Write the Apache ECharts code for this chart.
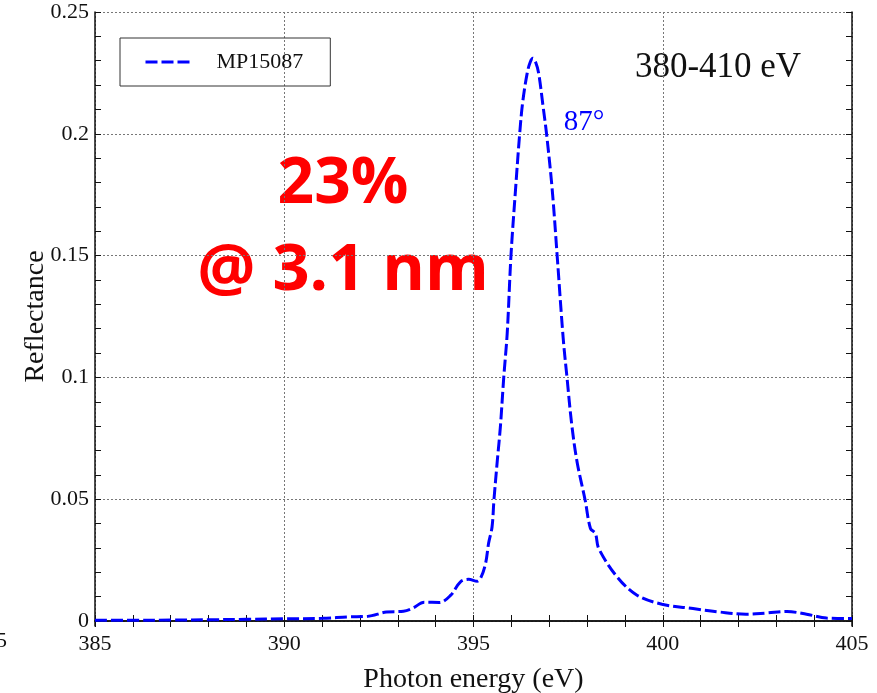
<!DOCTYPE html>
<html>
<head>
<meta charset="utf-8">
<script src="https://cdn.jsdelivr.net/npm/echarts@6/dist/echarts.min.js"></script>
<style>
  html, body { margin: 0; padding: 0; background: #fff; }
  #chart { width: 877px; height: 693px; }
</style>
</head>
<body>
<div id="chart"></div>
<script>
// photon energy (eV) and reflectance
var energy = [385.0, 386.0, 387.0, 388.0, 389.0, 390.0, 391.0, 391.7, 392.2, 392.7,
              393.15, 393.4, 393.7, 394.1, 394.4, 394.65, 394.87, 395.1, 395.2, 395.32,
              395.4, 395.49, 395.54, 395.63, 395.71, 395.8, 395.89, 395.99, 396.11, 396.22,
              396.3, 396.42, 396.5, 396.57, 396.64, 396.72, 396.84, 396.93, 397.08, 397.21,
              397.37, 397.47, 397.6, 397.74, 397.95, 398.09, 398.22, 398.31, 398.8, 399.32,
              399.98, 400.8, 401.5, 402.2, 402.75, 403.28, 403.8, 404.33, 405.0];
var reflect = [0.0003, 0.0003, 0.0004, 0.0005, 0.0007, 0.0009, 0.0011, 0.0017, 0.0019, 0.0037,
               0.0040, 0.0053, 0.0077, 0.0076, 0.0106, 0.0160, 0.0171, 0.0163, 0.0180, 0.0237,
               0.0320, 0.0386, 0.0496, 0.0660, 0.0797, 0.1002, 0.1180, 0.1500, 0.1770, 0.2000,
               0.2130, 0.2250, 0.2295, 0.2310, 0.2295, 0.2250, 0.2110, 0.2000, 0.1770, 0.1500,
               0.1160, 0.1000, 0.0800, 0.0650, 0.0496, 0.0380, 0.0359, 0.0297, 0.0180, 0.0106,
               0.0069, 0.0051, 0.0037, 0.0028, 0.0033, 0.0039, 0.0028, 0.0012, 0.0010];
var seriesName = 'MP15087';
var xTicks = [385, 405, 5];      // min, max, step
var yTicks = [0, 0.25, 0.05];

var serif = '"Liberation Serif", "Times New Roman", serif';
var chart = echarts.init(document.getElementById('chart'));

var pts = energy.map(function (e, i) { return [e, reflect[i]]; });
var gridLine = { show: true, lineStyle: { color: '#777', type: [2, 2], width: 1 } };
var frame = { show: true, lineStyle: { color: '#111', width: 1.5 } };
var inTick = { show: true, inside: true, length: 6, lineStyle: { color: '#111', width: 1 } };
var inMinor = { show: true, splitNumber: 5, length: 6, lineStyle: { color: '#111', width: 1 } };

option = {
    backgroundColor: '#fff',
    animation: false,
    grid: [
        // frame + data
        { left: 95, right: 25, top: 12, bottom: 67, outerBoundsMode: 'none', containLabel: false },
        // y ticks, zero at 0
        { left: 95, right: 25, top: 12, bottom: 72, outerBoundsMode: 'none', containLabel: false }
    ],
    legend: {
        data: [seriesName],
        left: 120,
        top: 38,
        itemWidth: 47,
        itemHeight: 14,
        padding: [13, 27, 13, 24],
        borderColor: '#333',
        borderWidth: 1,
        itemStyle: { color: 'rgba(0,0,0,0)', borderWidth: 0, opacity: 0 },
        lineStyle: { width: 3, type: [12, 4] },
        textStyle: { fontFamily: serif, fontSize: 22, color: '#111', padding: [0, 0, 0, 19] }
    },
    xAxis: [
        {
            gridIndex: 0, type: 'value', position: 'bottom',
            min: xTicks[0], max: xTicks[1], interval: xTicks[2],
            axisLine: frame, axisTick: inTick, minorTick: inMinor,
            splitLine: gridLine,
            axisLabel: { fontFamily: serif, fontSize: 22, color: '#111', margin: 7 },
            name: 'Photon energy (eV)', nameLocation: 'middle', nameGap: 40,
            nameTextStyle: { fontFamily: serif, fontSize: 28, color: '#111' }
        },
        {
            gridIndex: 0, type: 'value', position: 'top',
            min: xTicks[0], max: xTicks[1], interval: xTicks[2],
            axisLine: frame, axisTick: inTick, minorTick: inMinor,
            splitLine: { show: false }, axisLabel: { show: false }
        },
        { gridIndex: 1, type: 'value', min: xTicks[0], max: xTicks[1], show: false }
    ],
    yAxis: [
        {
            gridIndex: 0, type: 'value', position: 'left',
            min: -0.00205, max: yTicks[1],
            axisLine: frame, axisTick: { show: false },
            axisLabel: { show: false }, splitLine: { show: false }
        },
        {
            gridIndex: 0, type: 'value', position: 'right',
            min: -0.00205, max: yTicks[1],
            axisLine: frame, axisTick: { show: false },
            axisLabel: { show: false }, splitLine: { show: false }
        },
        {
            gridIndex: 1, type: 'value', position: 'left',
            min: yTicks[0], max: yTicks[1], interval: yTicks[2],
            axisLine: { show: false }, axisTick: inTick, minorTick: inMinor,
            splitLine: gridLine,
            axisLabel: { fontFamily: serif, fontSize: 22, color: '#111', margin: 6 },
            name: 'Reflectance', nameLocation: 'middle', nameGap: 45, nameMoveOverlap: false,
            nameTextStyle: { fontFamily: serif, fontSize: 28, color: '#111' }
        },
        {
            gridIndex: 1, type: 'value', position: 'right',
            min: yTicks[0], max: yTicks[1], interval: yTicks[2],
            axisLine: { show: false }, axisTick: inTick, minorTick: inMinor,
            splitLine: { show: false }, axisLabel: { show: false }
        }
    ],
    series: [
        {
            name: seriesName,
            type: 'line',
            xAxisIndex: 0,
            yAxisIndex: 0,
            data: pts,
            symbol: 'none',
            smooth: 0.35,
            lineStyle: { color: '#0000ff', width: 3, type: [12, 4] },
            itemStyle: { color: '#0000ff' }
        }
    ],
    graphic: [
        { type: 'text', x: 343, y: 185, silent: true,
          style: { text: '23%', font: 'bold 64px "Open Sans", sans-serif', fill: '#ff0000',
                   align: 'center', verticalAlign: 'middle' } },
        { type: 'text', x: 343, y: 271, silent: true,
          style: { text: '@ 3.1 nm', font: 'bold 65px "Open Sans", sans-serif', fill: '#ff0000',
                   align: 'center', verticalAlign: 'middle' } },
        { type: 'text', x: 584, y: 122, silent: true,
          style: { text: '87°', font: '29px ' + serif, fill: '#0000ff',
                   align: 'center', verticalAlign: 'middle' } },
        { type: 'text', x: 718, y: 68, silent: true,
          style: { text: '380-410 eV', font: '35px ' + serif, fill: '#111',
                   align: 'center', verticalAlign: 'middle' } },
        { type: 'text', x: -4, y: 641, silent: true,
          style: { text: '5', font: '22px ' + serif, fill: '#111',
                   align: 'left', verticalAlign: 'middle' } }
    ]
};

chart.setOption(option);
</script>
</body>
</html>
